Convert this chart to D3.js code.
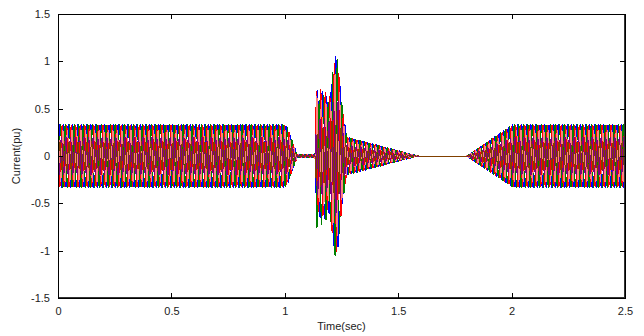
<!DOCTYPE html>
<html>
<head>
<meta charset="utf-8">
<script src="https://cdn.jsdelivr.net/npm/d3@7"></script>
<style>
  html, body { margin: 0; padding: 0; background: #fff; }
  svg { display: block; }
  text { font-family: "Liberation Sans", Arial, sans-serif; }
</style>
</head>
<body>
<svg id="chart" width="644" height="336"></svg>
<script>
// ---- data ----
const xTicks = [0, 0.5, 1, 1.5, 2, 2.5];
const xTickLabels = ["0", "0.5", "1", "1.5", "2", "2.5"];
const yTicks = [-1.5, -1, -0.5, 0, 0.5, 1, 1.5];
const yTickLabels = ["-1.5", "-1", "-0.5", "0", "0.5", "1", "1.5"];

// envelope (peak current, pu) read at key times (sec)
const envTime = [0, 1.0, 1.012, 1.055, 1.133, 1.135, 1.140, 1.150, 1.160, 1.170, 1.180, 1.190, 1.200, 1.210, 1.222, 1.232, 1.242, 1.252, 1.262, 1.274, 1.590, 1.800, 2.005, 2.5];
const envPeak = [0.33, 0.33, 0.30, 0.015, 0.015, 0.25, 0.80, 0.55, 0.74, 0.62, 0.70, 0.55, 0.66, 0.85, 1.06, 1.02, 0.80, 0.55, 0.38, 0.20, 0.0, 0.0, 0.33, 0.33];

// phase-current series (drawn in this order)
const seriesColors = ["#0000ff", "#008000", "#ff0000", "#ff8080", "#800080", "#804000"];
const seriesScale = [1.0, 1.0, 0.98, 0.82, 0.6, 0.45];
const seriesPhaseDeg = [0, 240, 120, 60, 180, 300];
const frequencyHz = 50;
const sampleStep = 0.0002;

// ---- chart ----
const W = 644, H = 336;
const margin = { left: 58, right: 19, top: 14, bottom: 38 };
const svg = d3.select("#chart");
const x = d3.scaleLinear().domain([0, 2.5]).range([margin.left, W - margin.right]);
const y = d3.scaleLinear().domain([-1.5, 1.5]).range([H - margin.bottom, margin.top]);

svg.append("defs").append("clipPath").attr("id", "clip")
  .append("rect")
  .attr("x", margin.left).attr("y", margin.top)
  .attr("width", W - margin.left - margin.right)
  .attr("height", H - margin.top - margin.bottom);

const env = d3.scaleLinear().domain(envTime).range(envPeak).clamp(true);

const times = d3.range(0, 2.5 + sampleStep / 2, sampleStep);
const line = d3.line().x(d => x(d[0])).y(d => y(d[1]));

const g = svg.append("g").attr("clip-path", "url(#clip)");
seriesColors.forEach((c, i) => {
  const ph = seriesPhaseDeg[i] * Math.PI / 180;
  const pts = times.map(t => [t, seriesScale[i] * env(t) * Math.sin(2 * Math.PI * frequencyHz * t + ph)]);
  g.append("path")
    .attr("d", line(pts))
    .attr("fill", "none")
    .attr("stroke", c)
    .attr("stroke-width", 1)
    .attr("shape-rendering", "crispEdges");
});

// axes box
const axisColor = "#000";
svg.append("rect")
  .attr("x", margin.left + 0.5).attr("y", margin.top + 0.5)
  .attr("width", W - margin.left - margin.right - 1)
  .attr("height", H - margin.top - margin.bottom - 1)
  .attr("fill", "none").attr("stroke", "#333")
  .attr("shape-rendering", "crispEdges");

const xAxis = d3.axisBottom(x).tickValues(xTicks).tickSizeInner(-5).tickSizeOuter(0)
  .tickPadding(9).tickFormat((d, i) => xTickLabels[i]);
svg.append("g").attr("transform", `translate(0,${H - margin.bottom})`).call(xAxis);
const xTop = d3.axisTop(x).tickValues(xTicks).tickSizeInner(-5).tickSizeOuter(0).tickFormat("");
svg.append("g").attr("transform", `translate(0,${margin.top})`).call(xTop);

const yAxis = d3.axisLeft(y).tickValues(yTicks).tickSizeInner(-5).tickSizeOuter(0)
  .tickPadding(8).tickFormat((d, i) => yTickLabels[i]);
svg.append("g").attr("transform", `translate(${margin.left},0)`).call(yAxis);
const yRight = d3.axisRight(y).tickValues(yTicks).tickSizeInner(-5).tickSizeOuter(0).tickFormat("");
svg.append("g").attr("transform", `translate(${W - margin.right},0)`).call(yRight);

svg.selectAll(".domain").attr("stroke", axisColor).attr("shape-rendering", "crispEdges");
svg.selectAll(".tick line").attr("stroke", axisColor).attr("shape-rendering", "crispEdges");
svg.selectAll(".tick text").attr("font-size", 11).attr("fill", "#222")
  .attr("font-family", "'Liberation Sans', Arial, sans-serif");

svg.append("text")
  .attr("x", x(1.25)).attr("y", 330)
  .attr("text-anchor", "middle").attr("font-size", 11).attr("fill", "#222")
  .text("Time(sec)");
svg.append("text")
  .attr("transform", `translate(20,${y(0)}) rotate(-90)`)
  .attr("text-anchor", "middle").attr("font-size", 11).attr("fill", "#222")
  .text("Current(pu)");
</script>
</body>
</html>
